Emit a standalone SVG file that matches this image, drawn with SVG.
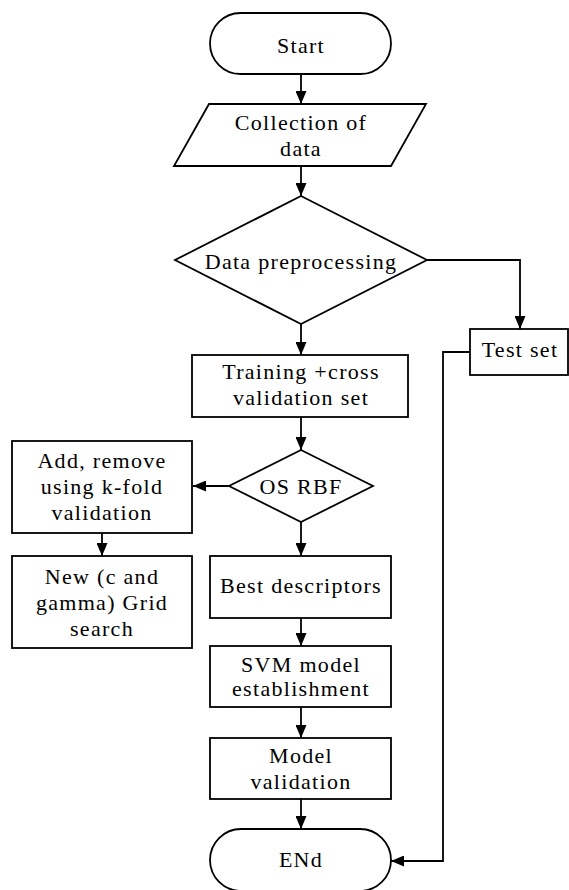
<svg xmlns="http://www.w3.org/2000/svg" width="569" height="890" viewBox="0 0 569 890">
<style>
.s{fill:#fff;stroke:#000;stroke-width:1.8}
.c{fill:none;stroke:#000;stroke-width:1.8}
text{font-family:"Liberation Serif","Times New Roman",serif;font-size:22px;letter-spacing:1.3px;text-anchor:middle;fill:#000}
</style>
<defs>
<marker id="a" markerWidth="13" markerHeight="11" refX="13" refY="5.5" orient="auto" markerUnits="userSpaceOnUse">
<path d="M0,0 L13,5.5 L0,11 Z" fill="#000"/>
</marker>
</defs>
<rect width="569" height="890" fill="#fff"/>
<g id="connectors">
<line class="c" x1="301" y1="74" x2="301" y2="104" marker-end="url(#a)"/>
<line class="c" x1="301" y1="166" x2="301" y2="196" marker-end="url(#a)"/>
<line class="c" x1="301" y1="324" x2="301" y2="355" marker-end="url(#a)"/>
<polyline class="c" points="426,260 520,260 520,329" marker-end="url(#a)"/>
<line class="c" x1="301" y1="417" x2="301" y2="450" marker-end="url(#a)"/>
<line class="c" x1="229" y1="486" x2="193" y2="486" marker-end="url(#a)"/>
<line class="c" x1="102" y1="533" x2="102" y2="556" marker-end="url(#a)"/>
<line class="c" x1="301" y1="522" x2="301" y2="556" marker-end="url(#a)"/>
<line class="c" x1="301" y1="618" x2="301" y2="646" marker-end="url(#a)"/>
<line class="c" x1="301" y1="707" x2="301" y2="738" marker-end="url(#a)"/>
<line class="c" x1="301" y1="799" x2="301" y2="829" marker-end="url(#a)"/>
<polyline class="c" points="470,352 443,352 443,861 391,861" marker-end="url(#a)"/>
</g>
<g id="start">
<rect class="s" x="210" y="13" width="181" height="61" rx="30.5"/>
<text x="301" y="53">Start</text>
</g>
<g id="collection">
<polygon class="s" points="209,104 426,104 391,166 174,166"/>
<text x="301" y="130">Collection of</text>
<text x="301" y="156">data</text>
</g>
<g id="preprocessing">
<polygon class="s" points="301,196 427,260 301,324 175,260"/>
<text x="301" y="269">Data preprocessing</text>
</g>
<g id="testset">
<rect class="s" x="470" y="329" width="98" height="46"/>
<text x="520" y="357">Test set</text>
</g>
<g id="training">
<rect class="s" x="192" y="355" width="216" height="62"/>
<text x="301" y="379">Training +cross</text>
<text x="301" y="405">validation set</text>
</g>
<g id="osrbf">
<polygon class="s" points="301,450 373,486 301,522 229,486"/>
<text x="301" y="494">OS RBF</text>
</g>
<g id="addremove">
<rect class="s" x="12" y="441" width="180" height="92"/>
<text x="102" y="468">Add, remove</text>
<text x="102" y="494">using k-fold</text>
<text x="102" y="520">validation</text>
</g>
<g id="gridsearch">
<rect class="s" x="12" y="556" width="180" height="92"/>
<text x="102" y="584">New (c and</text>
<text x="102" y="610">gamma) Grid</text>
<text x="102" y="636">search</text>
</g>
<g id="best">
<rect class="s" x="210" y="556" width="181" height="62"/>
<text x="301" y="593">Best descriptors</text>
</g>
<g id="svm">
<rect class="s" x="210" y="646" width="181" height="61"/>
<text x="301" y="672">SVM model</text>
<text x="301" y="696">establishment</text>
</g>
<g id="modelvalidation">
<rect class="s" x="210" y="738" width="181" height="61"/>
<text x="301" y="763">Model</text>
<text x="301" y="789">validation</text>
</g>
<g id="end">
<rect class="s" x="210" y="829" width="181" height="62" rx="31"/>
<text x="301" y="867">ENd</text>
</g>
</svg>
